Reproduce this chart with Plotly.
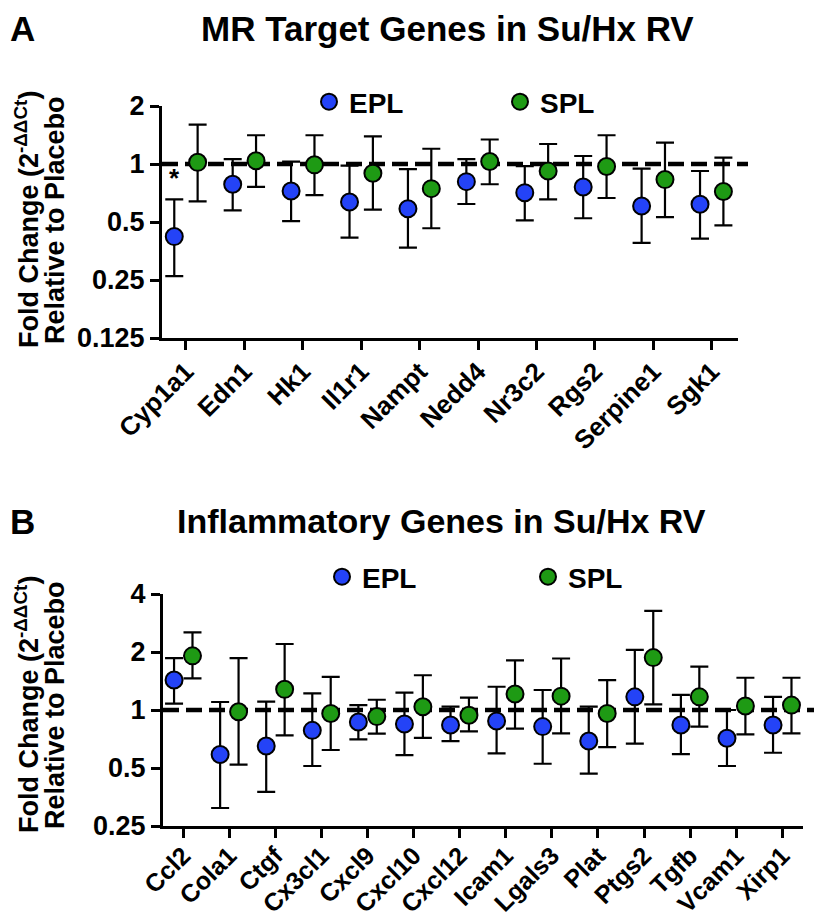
import plotly.graph_objects as go
import numpy as np

# ---------------- data ----------------
genes_a = ["Cyp1a1", "Edn1", "Hk1", "Il1r1", "Nampt", "Nedd4", "Nr3c2", "Rgs2", "Serpine1", "Sgk1"]
epl_a_mean = [0.42, 0.785, 0.724, 0.635, 0.586, 0.81, 0.71, 0.76, 0.605, 0.618]
epl_a_upper = [0.655, 1.06, 1.03, 0.98, 0.94, 1.06, 0.976, 1.10, 0.946, 0.92]
epl_a_lower = [0.262, 0.575, 0.505, 0.415, 0.368, 0.62, 0.51, 0.523, 0.39, 0.41]
spl_a_mean = [1.02, 1.04, 0.99, 0.895, 0.745, 1.03, 0.92, 0.97, 0.83, 0.72]
spl_a_upper = [1.60, 1.41, 1.41, 1.39, 1.2, 1.34, 1.27, 1.41, 1.29, 1.08]
spl_a_lower = [0.64, 0.76, 0.69, 0.58, 0.464, 0.785, 0.656, 0.666, 0.53, 0.48]

genes_b = ["Ccl2", "Cola1", "Ctgf", "Cx3cl1", "Cxcl9", "Cxcl10", "Cxcl12", "Icam1",
           "Lgals3", "Plat", "Ptgs2", "Tgfb", "Vcam1", "Xirp1"]
epl_b_mean = [1.43, 0.588, 0.65, 0.784, 0.866, 0.846, 0.836, 0.877, 0.82, 0.69, 1.17, 0.836, 0.713, 0.836]
epl_b_upper = [1.86, 1.10, 1.105, 1.22, 1.06, 1.23, 1.04, 1.32, 1.27, 1.04, 2.05, 1.197, 1.0, 1.17]
epl_b_lower = [1.08, 0.31, 0.376, 0.512, 0.704, 0.583, 0.69, 0.595, 0.526, 0.467, 0.669, 0.59, 0.512, 0.6]
spl_b_mean = [1.91, 0.98, 1.28, 0.96, 0.924, 1.04, 0.94, 1.21, 1.18, 0.96, 1.87, 1.17, 1.05, 1.06]
spl_b_upper = [2.53, 1.86, 2.2, 1.485, 1.13, 1.515, 1.16, 1.81, 1.85, 1.43, 3.27, 1.68, 1.47, 1.47]
spl_b_lower = [1.46, 0.52, 0.739, 0.62, 0.754, 0.717, 0.775, 0.8, 0.757, 0.642, 1.07, 0.82, 0.748, 0.757]

ticks_a = [0.125, 0.25, 0.5, 1, 2]
ticklabels_a = ["0.125", "0.25", "0.5", "1", "2"]
ticks_b = [0.25, 0.5, 1, 2, 4]
ticklabels_b = ["0.25", "0.5", "1", "2", "4"]
ref_value = 1.0

# ---------------- style ----------------
PAGE_W, PAGE_H = 822, 917
BODY = 8                      # default html body margin
W, H = PAGE_W - BODY, PAGE_H - BODY
FONT = "Liberation Sans"
BLUE = "#2443F7"
GREEN = "#1E9A14"
OFF = 0.2


def px(x):
    return (x - BODY) / W


def py(y):
    return 1 - (y - BODY) / H


def trace(xs, mean, upper, lower, color, name, xa, ya, legend):
    mean = np.array(mean)
    return go.Scatter(
        x=xs, y=mean, mode="markers", name=name,
        xaxis=xa, yaxis=ya, legend=legend, showlegend=True,
        marker=dict(size=17, color=color, line=dict(color="black", width=2)),
        error_y=dict(type="data", symmetric=False,
                     array=np.array(upper) - mean, arrayminus=mean - np.array(lower),
                     color="black", thickness=2.2, width=9),
    )


fig = go.Figure()
ia = np.arange(len(genes_a))
ib = np.arange(len(genes_b))
fig.add_trace(trace(ia - OFF, epl_a_mean, epl_a_upper, epl_a_lower, BLUE, "EPL", "x", "y", "legend"))
fig.add_trace(trace(ia + OFF, spl_a_mean, spl_a_upper, spl_a_lower, GREEN, "SPL", "x", "y", "legend"))
fig.add_trace(trace(ib - OFF, epl_b_mean, epl_b_upper, epl_b_lower, BLUE, "EPL", "x2", "y2", "legend2"))
fig.add_trace(trace(ib + OFF, spl_b_mean, spl_b_upper, spl_b_lower, GREEN, "SPL", "x2", "y2", "legend2"))

axis_common = dict(showline=True, linecolor="black", linewidth=3, ticks="outside",
                   ticklen=9, tickwidth=3, tickcolor="black", showgrid=False, zeroline=False,
                   automargin=False)
yfont = dict(family=FONT, size=27, color="black", weight="bold")
xfont_a = dict(family=FONT, size=26, color="black", weight="bold")
xfont_b = dict(family=FONT, size=25, color="black", weight="bold")
legfont = dict(family=FONT, size=28, color="black", weight="bold")

rng_a = [np.log10(0.125), np.log10(2)]
rng_b = [np.log10(0.25), np.log10(4)]

fig.update_layout(
    width=W, height=H, margin=dict(l=0, r=0, t=0, b=0, autoexpand=False),
    paper_bgcolor="white", plot_bgcolor="rgba(0,0,0,0)",
    font=dict(family=FONT, color="black"),
    xaxis=dict(domain=[px(162), px(738)], range=[-0.41, 9.45], anchor="y",
               tickmode="array", tickvals=list(ia), ticktext=genes_a, tickangle=-45,
               tickfont=xfont_a, ticklabelstandoff=-4, **axis_common),
    yaxis=dict(domain=[py(338), py(106)], type="log", range=rng_a, anchor="x",
               tickmode="array", tickvals=ticks_a, ticktext=ticklabels_a, tickfont=yfont, **axis_common),
    xaxis2=dict(domain=[px(163), px(803)], range=[-0.44, 13.45], anchor="y2",
                tickmode="array", tickvals=list(ib), ticktext=genes_b, tickangle=-45,
                tickfont=xfont_b, ticklabelstandoff=-7, **axis_common),
    yaxis2=dict(domain=[py(826), py(594)], type="log", range=rng_b, anchor="x2",
                tickmode="array", tickvals=ticks_b, ticktext=ticklabels_b, tickfont=yfont, **axis_common),
    legend=dict(orientation="h", x=px(309), y=py(102), xanchor="left", yanchor="middle",
                font=legfont, entrywidth=146, entrywidthmode="pixels", bgcolor="rgba(0,0,0,0)"),
    legend2=dict(orientation="h", x=px(322), y=py(577), xanchor="left", yanchor="middle",
                 font=legfont, entrywidth=161, entrywidthmode="pixels", bgcolor="rgba(0,0,0,0)"),
    showlegend=True,
)

# dashed reference lines at fold change = 1 (position within each axis' log range)
frac_a = (np.log10(ref_value) - rng_a[0]) / (rng_a[1] - rng_a[0])
frac_b = (np.log10(ref_value) - rng_b[0]) / (rng_b[1] - rng_b[0])
fig.add_shape(type="line", xref="paper", yref="y domain", x0=px(162), x1=px(748), y0=frac_a, y1=frac_a,
              line=dict(color="black", width=4.5, dash="16px,7px"), layer="below")
fig.add_shape(type="line", xref="paper", yref="y2 domain", x0=px(163), x1=px(822), y0=frac_b, y1=frac_b,
              line=dict(color="black", width=4.5, dash="16px,7px"), layer="below")

bold = dict(family=FONT, color="black", weight="bold")
ann = [
    dict(text="A", x=px(22), y=py(29), font=dict(size=35, **bold)),
    dict(text="MR Target Genes in Su/Hx RV", x=px(447), y=py(29), font=dict(size=35, **bold)),
    dict(text="B", x=px(22), y=py(521), font=dict(size=35, **bold)),
    dict(text="Inflammatory Genes in Su/Hx RV", x=px(441), y=py(521), font=dict(size=34, **bold)),
    dict(text="Fold Change (2<sup>-ΔΔCt</sup>)", x=px(27), y=py(220), textangle=-90, font=dict(size=27, **bold)),
    dict(text="Relative to Placebo", x=px(55), y=py(220), textangle=-90, font=dict(size=27, **bold)),
    dict(text="Fold Change (2<sup>-ΔΔCt</sup>)", x=px(27), y=py(705), textangle=-90, font=dict(size=27, **bold)),
    dict(text="Relative to Placebo", x=px(55), y=py(705), textangle=-90, font=dict(size=27, **bold)),
]
for a in ann:
    fig.add_annotation(xref="paper", yref="paper", showarrow=False, xanchor="center", yanchor="middle", **a)

# significance marker
fig.add_annotation(xref="x", yref="y", x=-OFF, y=np.log10(0.85), text="*", showarrow=False,
                   font=dict(size=26, **bold))

fig.write_html("out.html")
